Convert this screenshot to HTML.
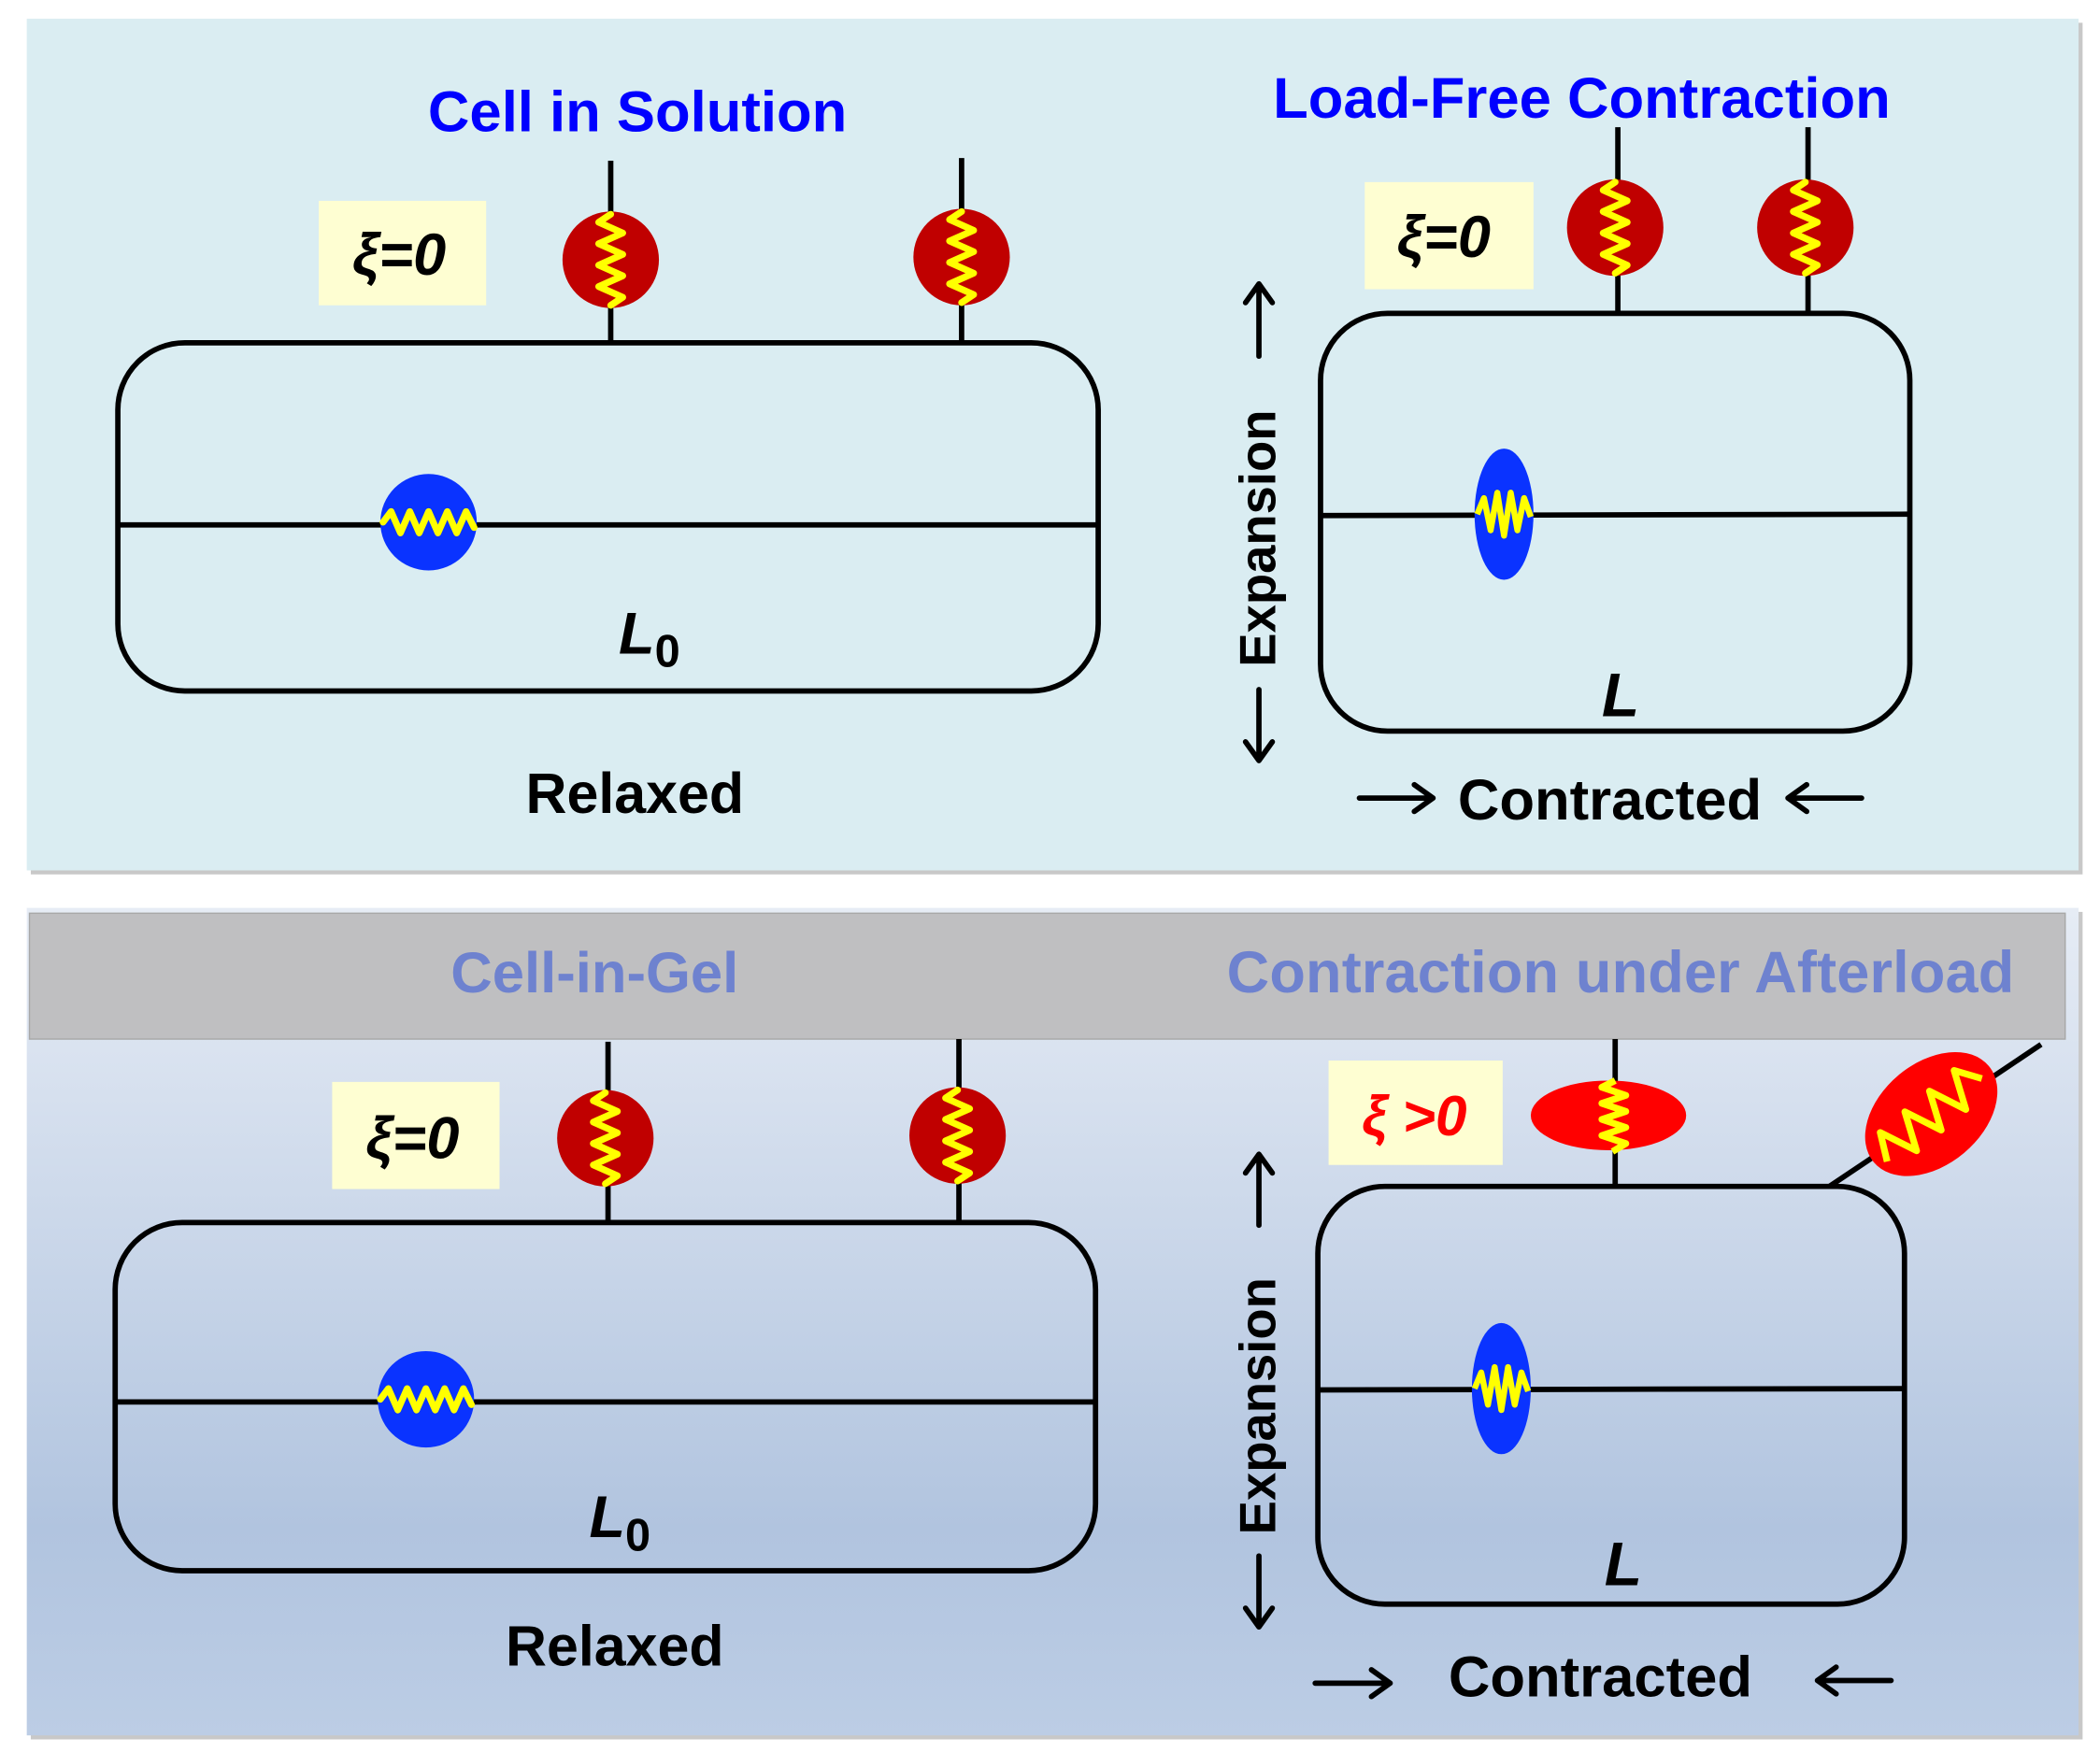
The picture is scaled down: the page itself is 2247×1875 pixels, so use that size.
<!DOCTYPE html>
<html><head><meta charset="utf-8"><style>
html,body{margin:0;padding:0;background:#fff;}
svg{display:block;}
text{font-family:"Liberation Sans",sans-serif;font-weight:bold;}
</style></head><body>
<svg width="2247" height="1875" viewBox="0 0 1568 1308.4" preserveAspectRatio="none" xmlns="http://www.w3.org/2000/svg">
<defs>
<linearGradient id="bg2" x1="0" y1="0" x2="0" y2="1">
<stop offset="0" stop-color="#e6ecf5"/><stop offset="0.75" stop-color="#b1c4df"/><stop offset="1" stop-color="#bccde5"/>
</linearGradient>
<polyline id="vs" points="0,-34 -9,-28 9,-20 -9,-12 9,-4 -9,4 9,12 -9,20 9,28 0,34" fill="none" stroke="#ffff00" stroke-width="5" stroke-linejoin="round" stroke-linecap="round"/>
<polyline id="hs" points="-34,0 -28,-8 -21,8 -14,-8 -7,8 0,-8 7,8 14,-8 21,8 28,-8 34,4" fill="none" stroke="#ffff00" stroke-width="5" stroke-linejoin="round" stroke-linecap="round"/>
</defs>
<rect width="1568" height="1310" fill="#fff"/>
<rect x="23" y="17" width="1532" height="636" fill="#c8c8c8"/>
<rect x="20" y="14" width="1532" height="636" fill="#daedf2"/>
<rect x="23" y="681" width="1532" height="618" fill="#c8c8c8"/>
<rect x="20" y="678" width="1532" height="618" fill="url(#bg2)"/>
<rect x="22" y="682" width="1520" height="94" fill="#bfbfc1" stroke="#a8a8a8" stroke-width="1"/>
<text x="444" y="741" font-size="43" fill="#6e82cf" text-anchor="middle">Cell-in-Gel</text>
<text x="1210" y="741" font-size="44" fill="#6e82cf" text-anchor="middle" textLength="588">Contraction under Afterload</text>

<g stroke="#000" stroke-width="4" fill="none">
<line x1="456" y1="120" x2="456" y2="256"/><line x1="718" y1="118" x2="718" y2="256"/>
<rect x="88" y="256" width="732" height="260" rx="50"/>
<line x1="88" y1="392" x2="820" y2="392"/>
<line x1="1208" y1="95" x2="1208" y2="234"/><line x1="1350" y1="95" x2="1350" y2="234"/>
<rect x="986" y="234" width="440" height="312" rx="50"/>
<line x1="986" y1="385" x2="1426" y2="384"/>
<line x1="454" y1="778" x2="454" y2="913"/><line x1="716" y1="776" x2="716" y2="913"/>
<rect x="86" y="913" width="732" height="260" rx="50"/>
<line x1="86" y1="1047" x2="818" y2="1047"/>
<line x1="1206" y1="776" x2="1206" y2="886"/><line x1="1366" y1="886" x2="1524" y2="780"/>
<rect x="984" y="886" width="438" height="312" rx="50"/>
<line x1="984" y1="1038" x2="1422" y2="1037"/>
</g>
<g stroke="#000" stroke-width="4" fill="none" stroke-linecap="round" stroke-linejoin="round">
<path d="M940,266 V212 M930,226 L940,212 L950,226"/>
<path d="M940,515 V568 M930,554 L940,568 L950,554"/>
<path d="M1015,596 H1070 M1056,586 L1070,596 L1056,606"/>
<path d="M1390,596 H1335 M1349,586 L1335,596 L1349,606"/>
<path d="M940,915 V862 M930,876 L940,862 L950,876"/>
<path d="M940,1162 V1215 M930,1201 L940,1215 L950,1201"/>
<path d="M982,1257 H1038 M1024,1247 L1038,1257 L1024,1267"/>
<path d="M1412,1255 H1357 M1371,1245 L1357,1255 L1371,1265"/>
</g>

<circle cx="456" cy="194" r="36" fill="#c00000"/><use href="#vs" x="456" y="194"/>
<circle cx="718" cy="192" r="36" fill="#c00000"/><use href="#vs" x="718" y="192"/>
<circle cx="1206" cy="170" r="36" fill="#c00000"/><use href="#vs" x="1206" y="170"/>
<circle cx="1348" cy="170" r="36" fill="#c00000"/><use href="#vs" x="1348" y="170"/>
<circle cx="452" cy="850" r="36" fill="#c00000"/><use href="#vs" x="452" y="850"/>
<circle cx="715" cy="848" r="36" fill="#c00000"/><use href="#vs" x="715" y="848"/>
<ellipse cx="1201" cy="833" rx="58" ry="26" fill="#ff0000"/>
<polyline points="1206,807 1196,812 1214,818 1196,824 1214,830 1196,836 1214,842 1196,848 1214,854 1204,860" fill="none" stroke="#ffff00" stroke-width="5" stroke-linejoin="round"/>
<g transform="translate(1442,832) rotate(-40)">
<ellipse cx="0" cy="0" rx="56" ry="38" fill="#ff0000"/>
<polyline points="-48,6 -38,-14 -26,14 -14,-14 -2,14 10,-14 22,14 34,-14 46,4" fill="none" stroke="#ffff00" stroke-width="5" stroke-linejoin="round"/>
</g>
<circle cx="320" cy="390" r="36" fill="#0a33ff"/><use href="#hs" x="320" y="390"/>
<circle cx="318" cy="1045" r="36" fill="#0a33ff"/><use href="#hs" x="318" y="1045"/>
<ellipse cx="1123" cy="384" rx="22" ry="49" fill="#0a33ff"/>
<polyline points="1103,384 1108,372 1113,396 1118,368 1123,400 1128,368 1133,396 1138,372 1143,386" fill="none" stroke="#ffff00" stroke-width="4.5" stroke-linejoin="round"/>
<ellipse cx="1121" cy="1037" rx="22" ry="49" fill="#0a33ff"/>
<polyline points="1101,1037 1106,1025 1111,1049 1116,1021 1121,1053 1126,1021 1131,1049 1136,1025 1141,1039" fill="none" stroke="#ffff00" stroke-width="4.5" stroke-linejoin="round"/>

<rect x="238" y="150" width="125" height="78" fill="#fefed2"/>
<text x="298" y="205" font-size="44" font-style="italic" text-anchor="middle">ξ=0</text>
<rect x="1019" y="136" width="126" height="80" fill="#fefed2"/>
<text x="1078" y="192" font-size="44" font-style="italic" text-anchor="middle">ξ=0</text>
<rect x="248" y="808" width="125" height="80" fill="#fefed2"/>
<text x="308" y="865" font-size="44" font-style="italic" text-anchor="middle">ξ=0</text>
<rect x="992" y="792" width="130" height="78" fill="#fefed2"/>
<text x="1056" y="848" font-size="42" font-style="italic" fill="#ff0000" text-anchor="middle">ξ &gt;0</text>

<text x="476" y="98" font-size="43" fill="#0000ff" text-anchor="middle">Cell in Solution</text>
<text x="1181" y="88" font-size="43" fill="#0000ff" text-anchor="middle">Load-Free Contraction</text>
<text x="474" y="607" font-size="42.5" text-anchor="middle">Relaxed</text>
<text x="459" y="1244" font-size="42.5" text-anchor="middle">Relaxed</text>
<text x="1202" y="612" font-size="43" text-anchor="middle">Contracted</text>
<text x="1195" y="1267" font-size="43" text-anchor="middle">Contracted</text>
<text transform="translate(952,402) rotate(-90)" font-size="38" text-anchor="middle">Expansion</text>
<text transform="translate(952,1050) rotate(-90)" font-size="38" text-anchor="middle">Expansion</text>
<text x="462" y="488" font-size="44" font-style="italic" font-family="Liberation Serif,serif">L<tspan font-size="34" dy="10" font-style="normal">0</tspan></text>
<text x="440" y="1148" font-size="44" font-style="italic" font-family="Liberation Serif,serif">L<tspan font-size="34" dy="10" font-style="normal">0</tspan></text>
<text x="1210" y="535" font-size="46" font-style="italic" text-anchor="middle">L</text>
<text x="1212" y="1184" font-size="46" font-style="italic" text-anchor="middle">L</text>
</svg>
</body></html>
